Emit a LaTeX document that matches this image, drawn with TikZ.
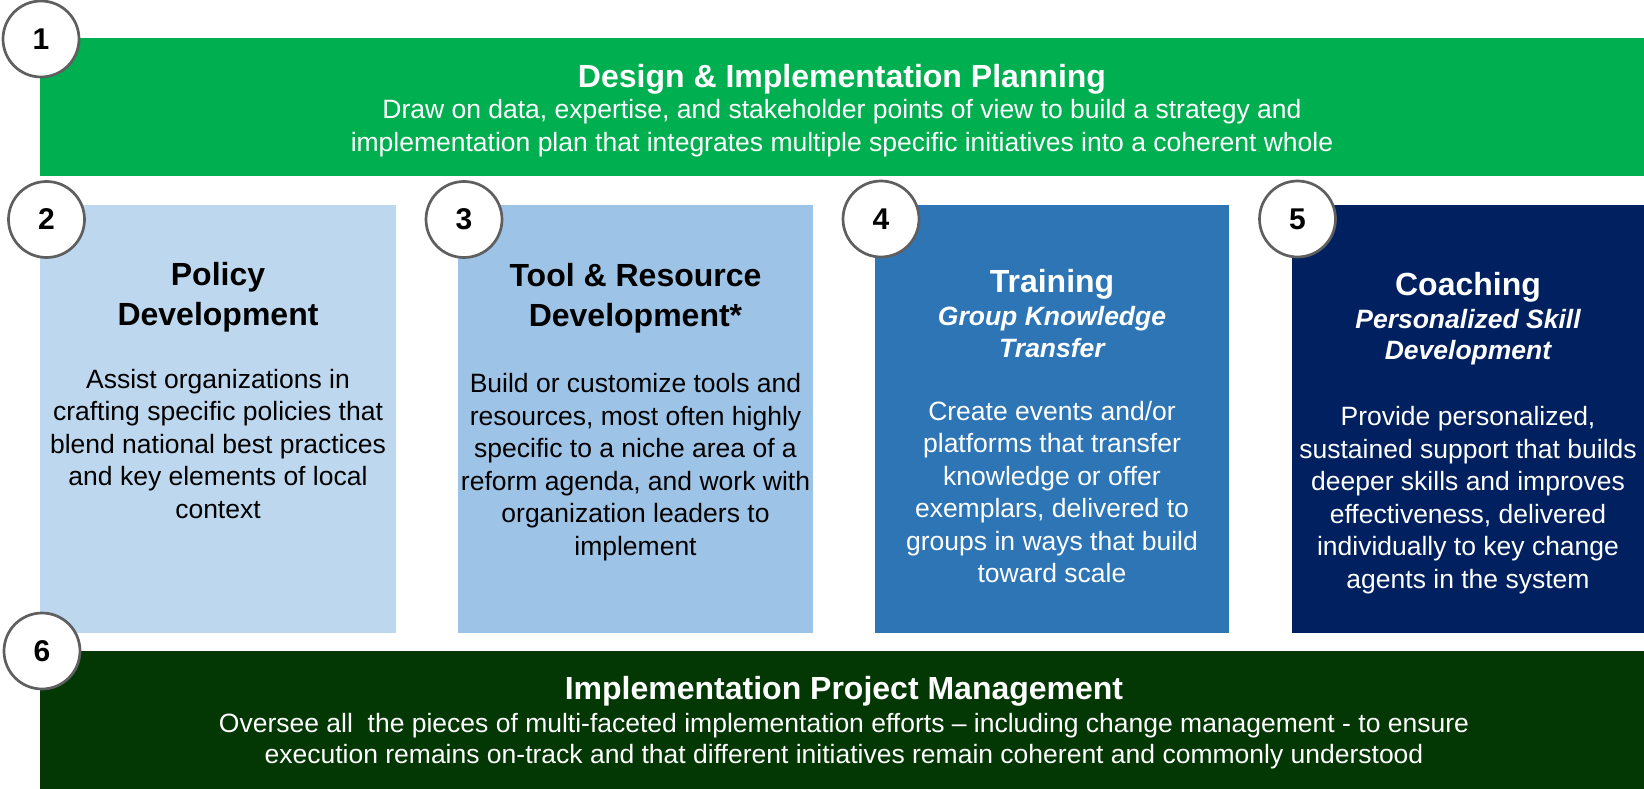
\documentclass[tikz,border=0pt]{standalone}
\usepackage{fontspec}
\setmainfont{Liberation Sans}
\definecolor{topgreen}{RGB}{0,175,80}
\definecolor{botgreen}{RGB}{3,55,3}
\definecolor{boxa}{RGB}{189,215,238}
\definecolor{boxb}{RGB}{157,195,230}
\definecolor{boxc}{RGB}{46,117,182}
\definecolor{boxd}{RGB}{0,32,96}
\definecolor{ringgray}{RGB}{95,95,95}
\newcommand\bodysz{\fontsize{26.5}{32.5}\selectfont}
\newcommand\titlesz{\fontsize{32}{40}\selectfont\bfseries}
\newcommand\subsz{\fontsize{26.5}{31.5}\selectfont\bfseries\itshape}
\tikzset{
  panel/.style={draw=none, inner sep=0pt, outer sep=0pt},
  ring/.style={circle, draw=ringgray, line width=2.7pt, fill=white, minimum size=76pt, inner sep=0pt, font=\fontsize{30}{30}\selectfont\bfseries},
  txt/.style={align=center, inner sep=0pt},
}
\begin{document}
\begin{tikzpicture}[x=1pt,y=-1pt]
\useasboundingbox (0,0) rectangle (1644,789);
% bars and boxes
\node[panel, fill=topgreen, minimum width=1604pt, minimum height=137pt] (top) at (842,107) {};
\node[panel, fill=botgreen, minimum width=1604pt, minimum height=138pt] (bot) at (842,720) {};
\node[panel, fill=boxa, minimum width=356pt, minimum height=428pt] (b2) at (218,419) {};
\node[panel, fill=boxb, minimum width=355pt, minimum height=428pt] (b3) at (635.5,419) {};
\node[panel, fill=boxc, minimum width=354pt, minimum height=428pt] (b4) at (1052,419) {};
\node[panel, fill=boxd, minimum width=352pt, minimum height=428pt] (b5) at (1468,419) {};
% top bar text
\node[txt, text=white, font=\titlesz] (t1) at (842,79) {Design \& Implementation Planning};
\node[txt, text=white, font=\bodysz] (d1) at (842,128) {Draw on data, expertise, and stakeholder points of view to build a strategy and\\implementation plan that integrates multiple specific initiatives into a coherent whole};
% box 2
\node[txt, font=\titlesz] (t2) at (218,297) {Policy\\Development};
\node[txt, font=\bodysz] (d2) at (218,444) {Assist organizations in\\crafting specific policies that\\blend national best practices\\and key elements of local\\context};
% box 3
\node[txt, font=\titlesz] (t3) at (635.5,298) {Tool \& Resource\\Development*};
\node[txt, font=\bodysz] (d3) at (635.5,467) {Build or customize tools and\\resources, most often highly\\specific to a niche area of a\\reform agenda, and work with\\organization leaders to\\implement};
% box 4
\node[txt, text=white, font=\titlesz] (t4) at (1052,284) {Training};
\node[txt, text=white, font=\subsz] (s4) at (1052,332) {Group Knowledge\\Transfer};
\node[txt, text=white, font=\bodysz] (d4) at (1052,492) {Create events and/or\\platforms that transfer\\knowledge or offer\\exemplars, delivered to\\groups in ways that build\\toward scale};
% box 5
\node[txt, text=white, font=\titlesz] (t5) at (1468,287) {Coaching};
\node[txt, text=white, font=\subsz] (s5) at (1468,337) {Personalized Skill\\Development};
\node[txt, text=white, font=\bodysz] (d5) at (1468,500) {Provide personalized,\\sustained support that builds\\deeper skills and improves\\effectiveness, delivered\\individually to key change\\agents in the system};
% bottom bar text
\node[txt, text=white, font=\titlesz] (t6) at (844,691) {Implementation Project Management};
\node[txt, text=white, font=\fontsize{26.5}{30.5}\selectfont] (d6) at (844,741) {Oversee all~ the pieces of multi-faceted implementation efforts -- including change management - to ensure\\execution remains on-track and that different initiatives remain coherent and commonly understood};
% number rings
\node[ring] (n1) at (41,39) {1};
\node[ring] (n2) at (46.5,219.5) {2};
\node[ring] (n3) at (464,219.5) {3};
\node[ring] (n4) at (881,219) {4};
\node[ring] (n5) at (1297.5,219) {5};
\node[ring] (n6) at (42,651) {6};
\end{tikzpicture}
\end{document}
